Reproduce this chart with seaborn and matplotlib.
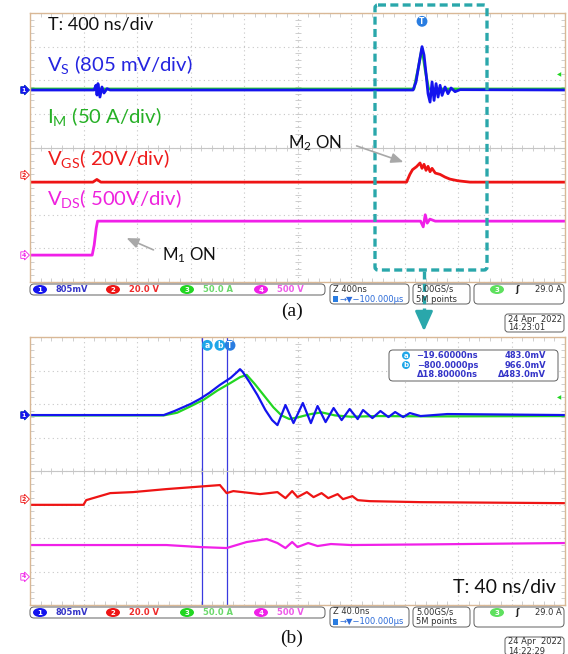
import matplotlib
matplotlib.use("Agg")
import matplotlib.pyplot as plt
import seaborn as sns
from matplotlib.patches import FancyBboxPatch, Ellipse

# ---- values ----
# time in ns from the left edge of the screen, level in screen divisions
# (a) 400 ns/div
a_vs_t = [0, 479, 493, 501, 508, 523, 538, 553, 576, 598, 2864, 2886, 2909, 2931, 2946, 2961, 2976, 2991, 3006, 3021,
          3036, 3051, 3066, 3081, 3103, 3125, 3148, 3178, 3215, 4000]
a_vs = [1.71, 1.71, 1.85, 1.56, 1.9, 1.5, 1.8, 1.62, 1.75, 1.71, 1.71, 1.95, 2.5, 3.0, 2.75, 2.2, 1.6, 1.35, 1.95, 1.4,
        1.9, 1.5, 1.85, 1.55, 1.8, 1.6, 1.77, 1.66, 1.72, 1.71]
a_im_t = [0, 2870, 2900, 2931, 2955, 2980, 4000]
a_im = [1.74, 1.74, 2.3, 2.95, 2.3, 1.74, 1.74]
a_vgs_t = [0, 470, 500, 530, 2815, 2840, 2860, 2890, 2916, 2931, 2946, 2961, 2976, 2991, 3006, 3030, 3066, 3103,
           3140, 3200, 3290, 4000]
a_vgs = [-1.03, -1.03, -0.95, -1.03, -1.03, -0.8, -0.66, -0.57, -0.46, -0.62, -0.5, -0.68, -0.56, -0.72, -0.62,
         -0.76, -0.8, -0.88, -0.94, -0.99, -1.03, -1.03]
a_vds_t = [0, 465, 480, 495, 505, 2920, 2940, 2955, 2970, 2990, 3030, 4000]
a_vds = [-3.2, -3.2, -2.9, -2.4, -2.19, -2.19, -2.36, -2.0, -2.25, -2.13, -2.19, -2.19]
a_trig = 2931
a_zero = [1.71, -0.82, 1.71, -3.2]   # channel 1..4 ground markers
a_trig_level = 2.16

# (b) 40 ns/div
b_vs_t = [0, 100, 108, 120, 127, 134, 142, 150, 155, 157, 159, 164, 170, 176, 181, 185, 191, 197, 204, 210,
          215, 221, 227, 233, 239, 245, 249, 256, 262, 268, 273, 279, 284, 292, 312, 400]
b_vs = [1.67, 1.67, 1.79, 2.0, 2.15, 2.33, 2.57, 2.78, 2.96, 3.04, 2.96, 2.66, 2.27, 1.82, 1.52, 1.37, 1.97, 1.43,
        2.03, 1.43, 1.94, 1.46, 1.88, 1.52, 1.85, 1.55, 1.82, 1.58, 1.79, 1.61, 1.76, 1.61, 1.73, 1.64, 1.70, 1.67]
b_im_t = [0, 100, 110, 120, 130, 140, 150, 157, 162, 168, 175, 182, 188, 194, 200, 210, 218, 228, 240, 260, 300, 400]
b_im = [1.66, 1.66, 1.74, 1.93, 2.13, 2.4, 2.63, 2.8, 2.87, 2.6, 2.25, 1.9, 1.66, 1.55, 1.6, 1.7, 1.75, 1.66, 1.62,
        1.64, 1.63, 1.64]
b_vgs_t = [0, 40, 42, 60, 77, 102, 122, 142, 147, 152, 172, 185, 191, 196, 200, 207, 212, 218, 223, 230,
           234, 241, 245, 254, 292, 400]
b_vgs = [-1.01, -1.01, -0.87, -0.66, -0.63, -0.54, -0.48, -0.42, -0.66, -0.6, -0.69, -0.63, -0.81, -0.6, -0.78,
         -0.63, -0.78, -0.66, -0.81, -0.69, -0.84, -0.75, -0.87, -0.9, -0.93, -0.96]
b_vds_t = [0, 102, 127, 147, 162, 177, 185, 191, 196, 200, 208, 215, 225, 240, 300, 400]
b_vds = [-2.21, -2.21, -2.27, -2.30, -2.12, -2.03, -2.15, -2.30, -2.12, -2.27, -2.15, -2.24, -2.18, -2.21, -2.19,
         -2.15]
b_trig = 148
b_cursors = [-19.6, -0.8]            # ns, relative to trigger
b_zero = [1.67, -0.84, 1.67, -3.16]
b_trig_level = 2.18

ch_scales = ["805mV", "20.0 V", "50.0 A", "500 V"]
cursor_rows = [("a", "\u221219.60000ns", "483.0mV"),
               ("b", "\u2212800.0000ps", "966.0mV"),
               ("", "\u039418.80000ns", "\u0394483.0mV")]

# ---- style ----
sns.set_theme(style="white")
plt.rcParams["font.family"] = ["Lato", "DejaVu Sans"]
plt.rcParams["mathtext.fontset"] = "custom"
plt.rcParams["mathtext.rm"] = "Lato"
plt.rcParams["mathtext.it"] = "Lato:italic"
plt.rcParams["mathtext.bf"] = "Lato:bold"

BLUE, GREEN, RED, MAG = "#1414ee", "#22d622", "#ee1414", "#f020e8"
CH_COLORS = [BLUE, RED, GREEN, MAG]          # in status-bar order 1,2,3,4
LABEL_COLORS = ["#3434c8", "#ee2a2a", "#6ad86a", "#ee5ae8"]
TEAL = "#2aa7ab"
FRAME = "#d9b896"
GRID = "#c6c6c6"
CYAN = "#1fa6e8"

W, H = 568, 654
fig = plt.figure(figsize=(W / 100, H / 100), dpi=100)
fig.patch.set_facecolor("white")


def scope(top, bottom, tdiv):
    ax = fig.add_axes([30 / W, 1 - bottom / H, 535 / W, (bottom - top) / H])
    ax.set_xlim(0, 10 * tdiv)
    ax.set_ylim(-4, 4)
    ax.set_xticks([tdiv * i for i in range(11)])
    ax.set_yticks(range(-4, 5))
    minor_x = [tdiv * i / 5 for i in range(51)]
    minor_y = [i / 5 for i in range(-20, 21)]
    ax.set_xticks(minor_x, minor=True)
    ax.set_yticks(minor_y, minor=True)
    ax.tick_params(which="both", labelbottom=False, labelleft=False, length=0)
    ax.tick_params(which="minor", direction="in", length=3, color=GRID, width=0.6,
                   top=True, bottom=True, left=True, right=True)
    ax.grid(True, which="major", color=GRID, ls=(0, (1, 3)), lw=0.8)
    ax.axhline(0, color=GRID, lw=0.8)
    ax.plot(minor_x, [0] * len(minor_x), ls="none", marker="|", ms=4, color=GRID, mew=0.6)
    ax.plot([5 * tdiv] * len(minor_y), minor_y, ls="none", marker="_", ms=4, color=GRID, mew=0.6)
    for s in ax.spines.values():
        s.set_color(FRAME)
        s.set_linewidth(1.0)
    ax.set_facecolor("white")
    return ax


def traces(ax, series, lw):
    for t, v, c in series:
        sns.lineplot(x=t, y=v, ax=ax, color=c, lw=lw, sort=False, estimator=None)


def markers(ax, zeros, trig_level):
    order = [2, 0, 1, 3]   # draw green first so ch1 sits on top of it
    for i in order:
        filled = i == 0
        ax.annotate(str(i + 1), xy=(0, zeros[i]), xycoords=("axes fraction", "data"),
                    xytext=(-4.5, 0), textcoords="offset points", ha="center", va="center",
                    fontsize=4.5, fontweight="bold", family="DejaVu Sans",
                    color="white" if filled else CH_COLORS[i], annotation_clip=False,
                    bbox=dict(boxstyle="rarrow,pad=0.12", fc=CH_COLORS[i] if filled else "white",
                              ec=CH_COLORS[i], lw=0.6))
    ax.annotate("\u25c0", xy=(1, trig_level), xycoords=("axes fraction", "data"), xytext=(-4, 0),
                textcoords="offset points", ha="center", va="center", fontsize=4, color=GREEN,
                family="DejaVu Sans", annotation_clip=False)


def tag(ax, x, y, s, color, dx=0):
    ax.annotate(s, xy=(x, y), xycoords=("data", "axes fraction"), xytext=(dx, -6),
                textcoords="offset points", ha="center", va="center", fontsize=5.5, color="white",
                fontweight="bold", family="DejaVu Sans",
                bbox=dict(boxstyle="circle,pad=0.12", fc=color, ec="none"))


ax_a = scope(13, 282, 400)
traces(ax_a, [(a_im_t, a_im, GREEN), (a_vs_t, a_vs, BLUE), (a_vgs_t, a_vgs, RED), (a_vds_t, a_vds, MAG)], 2.0)
markers(ax_a, a_zero, a_trig_level)
tag(ax_a, a_trig, 1, "T", "#2a7de1")

ax_b = scope(337, 605, 40)
for c in b_cursors:
    ax_b.axvline(b_trig + c, color="#3a3ae0", lw=0.9, zorder=1)
traces(ax_b, [(b_im_t, b_im, GREEN), (b_vs_t, b_vs, BLUE), (b_vgs_t, b_vgs, RED), (b_vds_t, b_vds, MAG)], 1.6)
markers(ax_b, b_zero, b_trig_level)
tag(ax_b, b_trig + b_cursors[0], 1, "a", CYAN, dx=4)
tag(ax_b, b_trig + b_cursors[1], 1, "b", CYAN, dx=-5)
tag(ax_b, b_trig, 1, "T", "#2a7de1", dx=1.5)

# ---- overlay in pixel coordinates for screen furniture ----
ov = fig.add_axes([0, 0, 1, 1])
ov.set_xlim(0, W)
ov.set_ylim(H, 0)
ov.axis("off")
ov.patch.set_alpha(0)


def rbox(x0, y0, x1, y1, r=4):
    ov.add_patch(FancyBboxPatch((x0, y0), x1 - x0, y1 - y0, boxstyle=f"round,pad=0,rounding_size={r}",
                                fc="white", ec="#606060", lw=0.7))


def badge(x, y, s, color, w=14, h=9):
    ov.add_patch(Ellipse((x, y), w, h, fc=color, ec="none"))
    ov.text(x, y + 0.3, s, color="white", fontsize=5, fontweight="bold", ha="center", va="center",
            family="DejaVu Sans")


def small(x, y, s, color="#303030", ha="left", bold=False):
    ov.text(x, y, s, color=color, fontsize=6, ha=ha, va="center", family="DejaVu Sans",
            fontweight="bold" if bold else "normal")


def status(y, zoom, date, clock):
    rbox(30, y, 325, y + 11)
    for i, (cx, lx) in enumerate([(40, 55), (113, 129), (187, 203), (261, 277)]):
        badge(cx, y + 5.5, str(i + 1), CH_COLORS[i])
        small(lx, y + 5.5, ch_scales[i], LABEL_COLORS[i], bold=True)
    rbox(330, y, 409, y + 20)
    small(333, y + 5, zoom)
    ov.add_patch(FancyBboxPatch((333, y + 12), 5, 6, boxstyle="square,pad=0", fc="#2a7de1", ec="none"))
    small(339, y + 15, "\u2192\u25bc\u2212100.000\u00b5s", "#2a6ad8")
    rbox(413, y, 470, y + 20)
    small(416, y + 5, "5.00GS/s")
    small(416, y + 15, "5M points")
    rbox(474, y, 564, y + 20)
    badge(497, y + 5.5, "3", "#5ee05e")
    small(515, y + 5.5, "\u0283", "#202020", bold=True)
    small(562, y + 5.5, "29.0 A", ha="right")
    rbox(505, y + 30, 564, y + 48, r=3)
    small(508, y + 35, date)
    small(508, y + 44, clock)


status(284, "Z 400ns", "24 Apr  2022", "14:23:01")
status(607, "Z 40.0ns", "24 Apr  2022", "14:22:29")

ov.text(292, 311, "(a)", fontsize=14, family="Liberation Serif", ha="center", va="center", color="#111111")
ov.text(292, 638, "(b)", fontsize=14, family="Liberation Serif", ha="center", va="center", color="#111111")

# labels of panel (a)
lab = dict(fontsize=13, va="center", ha="left")
chlab = dict(fontsize=14.6, va="center", ha="left")
ov.text(48, 25, "T: 400 ns/div", color="#111111", **lab)
ov.text(47, 65, r"V$_\mathrm{S}$ (805 mV/div)", color="#2525e0", **chlab)
ov.text(47, 117, r"I$_\mathrm{M}$ (50 A/div)", color="#26b026", **chlab)
ov.text(47, 158, r"V$_\mathrm{GS}$( 20V/div)", color="#ee1c1c", **chlab)
ov.text(47, 198, r"V$_\mathrm{DS}$( 500V/div)", color="#ee22dd", **chlab)
ov.text(162, 255, r"M$_\mathrm{1}$ ON", color="#111111", fontsize=12.2, va="center", ha="left")
ov.text(288, 143, r"M$_\mathrm{2}$ ON", color="#111111", fontsize=12.2, va="center", ha="left")
ov.text(453, 587, "T: 40 ns/div", color="#111111", fontsize=14, va="center", ha="left")

arr = dict(arrowstyle="-|>,head_width=0.25,head_length=0.6", color="#a8a8a8", lw=1.2)
ov.annotate("", xy=(124, 237), xytext=(156, 251), arrowprops=arr)
ov.annotate("", xy=(406, 163), xytext=(354, 145), arrowprops=arr)

# zoom window and arrow
ov.add_patch(FancyBboxPatch((375, 5), 112, 265, boxstyle="round,pad=0,rounding_size=3", fill=False,
                            ec=TEAL, lw=2.4, ls=(0, (2.4, 1.3))))
ov.plot([424, 424], [271, 321], color=TEAL, lw=2.4, ls=(0, (2.4, 1.3)))
ov.annotate("", xy=(424, 334), xytext=(424, 318),
            arrowprops=dict(arrowstyle="-|>,head_width=0.45,head_length=1.0", color=TEAL, lw=2.0))

# cursor readout of panel (b)
rbox(389, 350, 558, 381)
for k, (name, tval, vval) in enumerate(cursor_rows):
    yy = 355.5 + 9.5 * k
    if name:
        badge(406, yy, name, CYAN, w=8, h=8)
    small(478, yy, tval, "#3434c8", ha="right", bold=True)
    small(546, yy, vval, "#3434c8", ha="right", bold=True)

fig.savefig("out.png", dpi=100, facecolor="white")
